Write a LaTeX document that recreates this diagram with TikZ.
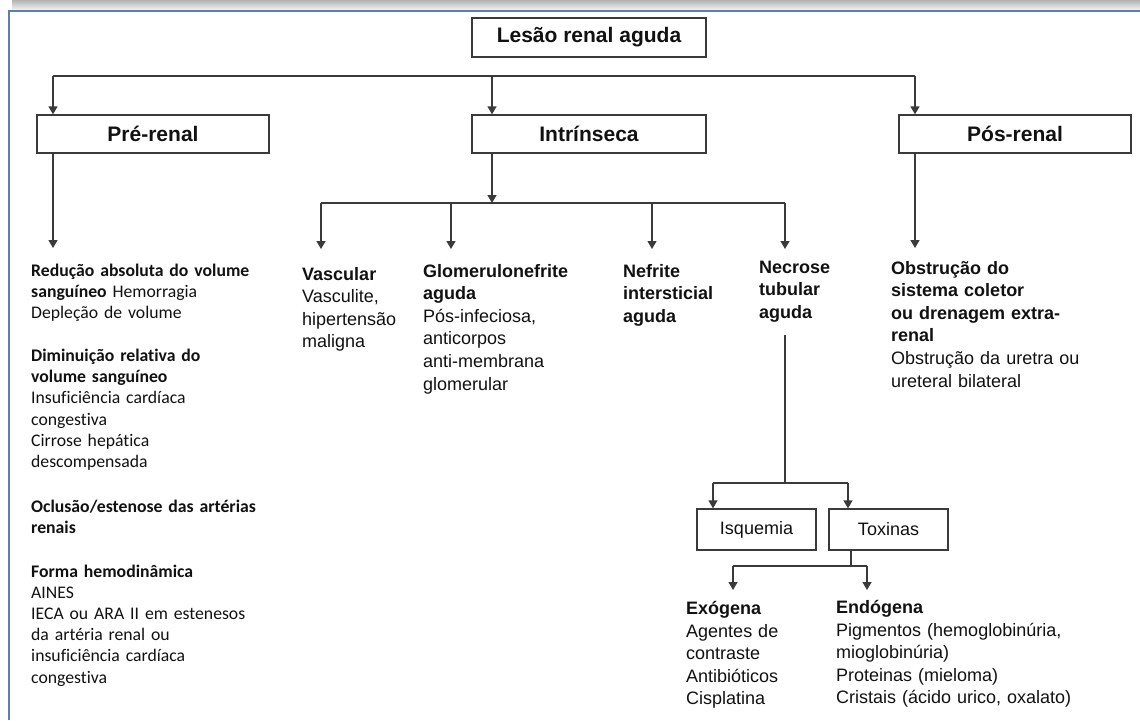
\documentclass[tikz,border=0pt]{standalone}
\usepackage{fontspec}
\setmainfont{Liberation Sans}
\newfontfamily\calfont[Ligatures={NoCommon}]{Carlito}
\usetikzlibrary{arrows.meta}
\definecolor{linec}{HTML}{3A3A3A}
\definecolor{frameblue}{HTML}{5A7DB4}
\definecolor{txt}{HTML}{111111}
\tikzset{
  box/.style={draw=linec, line width=1.3pt, fill=white, inner sep=0pt, text=txt,
    font=\fontsize{21}{24}\selectfont\bfseries},
  smallbox/.style={draw=linec, line width=1.3pt, fill=white, inner sep=0pt, text=txt,
    font=\fontsize{18}{22}\selectfont},
  conn/.style={draw=linec, line width=1.3pt},
  arr/.style={conn, -{Triangle[width=9pt,length=8pt]}},
  atext/.style={anchor=base west, inner sep=0pt, text=txt, text width=260pt, align=left,
    font=\fontsize{18}{22.6}\selectfont},
  ctext/.style={anchor=base west, inner sep=0pt, text=txt, text width=260pt, align=left,
    font=\calfont\fontsize{17.7}{21.2}\selectfont},
}
\begin{document}
\begin{tikzpicture}[x=1pt,y=-1pt]
\useasboundingbox (0,0) rectangle (1140,720);
% window frame
\shade[top color=gray!60, bottom color=gray!8] (12,0) rectangle (1140,10);
\draw[frameblue, line width=1.3pt] (9,720) -- (9,11) -- (1140,11);

% main boxes
\node[box, minimum width=234pt, minimum height=39pt] (lra) at (589,37.5) {Lesão renal aguda\hspace{14pt}};
\node[box, minimum width=232pt, minimum height=38pt] (pre) at (153,134) {Pré-renal\hspace{10pt}};
\node[box, minimum width=234pt, minimum height=38pt] (intr) at (589,134) {Intrínseca\hspace{6pt}};
\node[box, minimum width=232pt, minimum height=38pt] (pos) at (1015,134) {Pós-renal\hspace{7pt}};

% top bar
\coordinate (barL) at (53,76);
\coordinate (bI) at (492,76);
\coordinate (barR) at (915,76);
\draw[conn] (barL) -- (barR);
\draw[arr] (barL) -- (barL |- pre.north);
\draw[arr] (bI) -- (bI |- intr.north);
\draw[arr] (barR) -- (barR |- pos.north);

% pre-renal
\coordinate (preEnd) at (53,248);
\draw[arr] (barL |- pre.south) -- (preEnd);
\node[ctext] (preA) at (31,276) {\textbf{Redução absoluta do volume}\\\textbf{sanguíneo} Hemorragia\\Depleção de volume};
\node[ctext] (preB) at (31,361.5) {\textbf{Diminuição relativa do}\\\textbf{volume sanguíneo}\\Insuficiência cardíaca\\congestiva\\Cirrose hepática\\descompensada};
\node[ctext] (preC) at (31,512.5) {\textbf{Oclusão/estenose das artérias}\\\textbf{renais}};
\node[ctext] (preD) at (31,577) {\textbf{Forma hemodinâmica}\\AINES\\IECA ou ARA II em estenesos\\da artéria renal ou\\insuficiência cardíaca\\congestiva};

% intrinseca
\coordinate (iJ) at (492,203);
\coordinate (iL) at (321,203);
\coordinate (iG) at (451,203);
\coordinate (iN) at (652,203);
\coordinate (iR) at (785,203);
\draw[arr] (bI |- intr.south) -- (iJ);
\draw[conn] (iL) -- (iR);
\coordinate (eV) at (321,249);
\coordinate (eG) at (451,249);
\coordinate (eN) at (652,249);
\coordinate (eT) at (785,249);
\draw[arr] (iL) -- (eV);
\draw[arr] (iG) -- (eG);
\draw[arr] (iN) -- (eN);
\draw[arr] (iR) -- (eT);

\node[atext] (vasc) at (302,280) {\textbf{Vascular}\\Vasculite,\\hipertensão\\maligna};
\node[atext] (glom) at (423,277) {\textbf{Glomerulonefrite}\\\textbf{aguda}\\Pós-infeciosa,\\anticorpos\\anti-membrana\\glomerular};
\node[atext] (nef) at (623,277) {\textbf{Nefrite}\\\textbf{intersticial}\\\textbf{aguda}};
\node[atext] (nec) at (759,273) {\textbf{Necrose}\\\textbf{tubular}\\\textbf{aguda}};

% pos-renal
\coordinate (posEnd) at (915,248);
\draw[arr] (barR |- pos.south) -- (posEnd);
\node[atext] (obs) at (891,274) {\textbf{Obstrução do}\\\textbf{sistema coletor}\\\textbf{ou drenagem extra-}\\\textbf{renal}\\Obstrução da uretra ou\\ureteral bilateral};

% necrose branches
\node[smallbox, minimum width=119pt, minimum height=41pt] (isq) at (756.5,529.5) {Isquemia\hspace{5pt}};
\node[smallbox, minimum width=119pt, minimum height=41pt] (tox) at (888.5,529.5) {Toxinas\hspace{5pt}};
\coordinate (nTop) at (785,335);
\coordinate (nJ) at (785,483);
\coordinate (nL) at (713,483);
\coordinate (nR) at (848,483);
\draw[conn] (nTop) -- (nJ);
\draw[conn] (nL) -- (nR);
\draw[arr] (nL) -- (nL |- isq.north);
\draw[arr] (nR) -- (nR |- tox.north);

% toxinas branches
\coordinate (tJ) at (851,566);
\coordinate (tL) at (733,566);
\coordinate (tR) at (867,566);
\draw[conn] (tJ |- tox.south) -- (tJ);
\draw[conn] (tL) -- (tR);
\coordinate (eExo) at (733,590);
\coordinate (eEnd) at (867,590);
\draw[arr] (tL) -- (eExo);
\draw[arr] (tR) -- (eEnd);

\node[atext] (exo) at (686,614.5) {\textbf{Exógena}\\Agentes de\\contraste\\Antibióticos\\Cisplatina};
\node[atext] (endo) at (836,613.5) {\textbf{Endógena}\\Pigmentos (hemoglobinúria,\\mioglobinúria)\\Proteinas (mieloma)\\Cristais (ácido urico, oxalato)};
\end{tikzpicture}
\end{document}
